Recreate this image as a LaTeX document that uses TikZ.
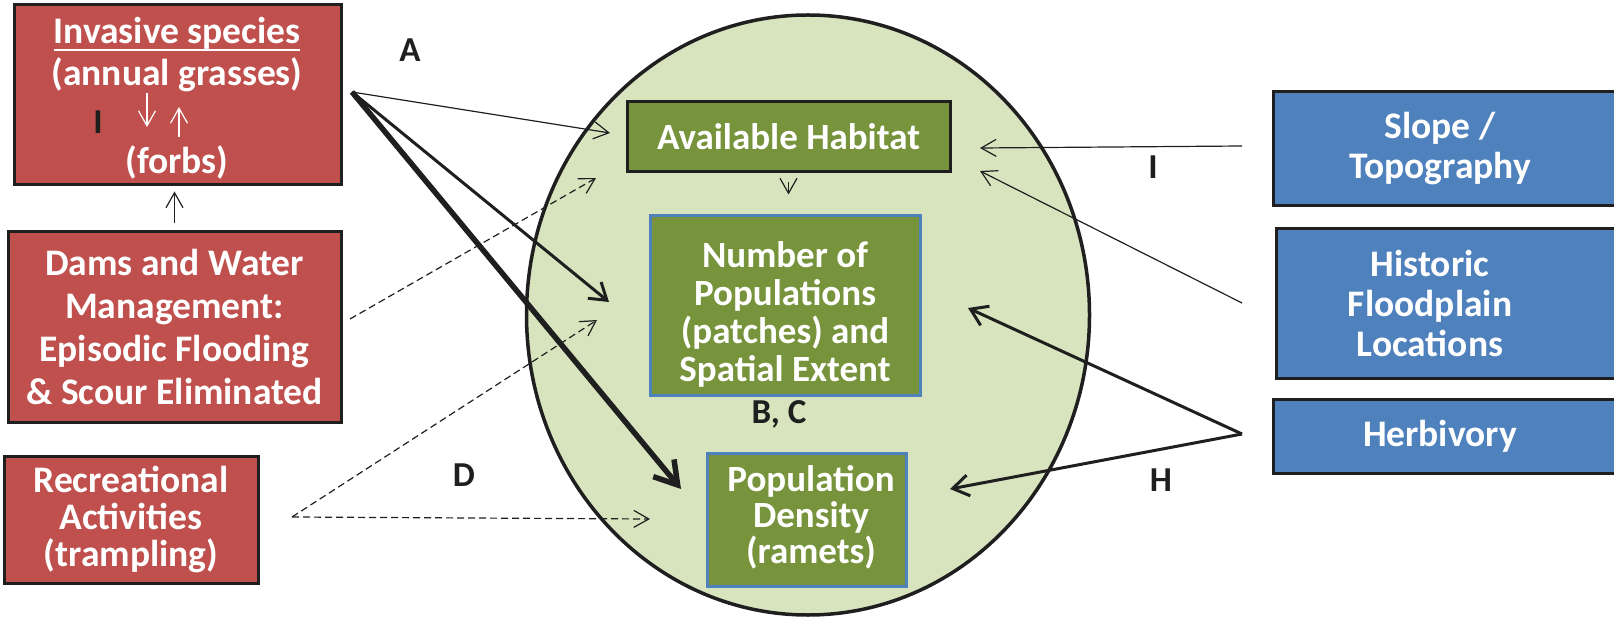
\documentclass[tikz,border=0pt]{standalone}
\usepackage{fontspec}
\setmainfont{Carlito}
\usetikzlibrary{arrows.meta,shapes.geometric}
\definecolor{brick}{HTML}{C0504D}
\definecolor{moss}{HTML}{77933C}
\definecolor{sage}{HTML}{D7E4BD}
\definecolor{steel}{HTML}{4F81BD}
\definecolor{ink}{HTML}{1F1F1F}
\newcommand\ulined[1]{\setbox0\hbox{#1}\rlap{\rule[-7pt]{\wd0}{2pt}}\box0}

\begin{document}
\begin{tikzpicture}[x=1pt, y=-1pt,
   box/.style={rectangle, inner sep=0pt, align=center, text=white, line width=3pt,
     font=\bfseries\fontsize{37.5}{43}\selectfont},
   driver/.style={box, draw=ink, fill=brick},
   response/.style={box, fill=moss, font=\bfseries\fontsize{37}{38}\selectfont},
   factor/.style={box, draw=ink, fill=steel, font=\bfseries\fontsize{37.5}{40}\selectfont},
   boxtext/.style={align=center, text=white, inner sep=0pt},
   tag/.style={text=ink, inner sep=0pt, font=\bfseries\fontsize{35}{40}\selectfont},
   link/.style={draw=ink, line width=1.2pt, -{Straight Barb[length=15pt,width=17pt]}},
   dashlink/.style={link, dash pattern=on 7pt off 4pt},
   strong/.style={draw=ink, line width=3pt, -{Straight Barb[length=16pt,width=21pt]}},
   heavy/.style={draw=ink, line width=5.5pt, -{Straight Barb[length=22pt,width=27pt]}}]
   \clip (0,0) rectangle (1614,620);

   % habitat zone
   \node[ellipse, draw=ink, fill=sage, line width=3.5pt, inner sep=0pt,
     minimum width=563pt, minimum height=600pt] (zone) at (808,315) {};

   % drivers on the left
   \node[driver, minimum width=327pt, minimum height=180pt] (inv) at (177.5,95) {};
   \node[boxtext, font=\bfseries\fontsize{37.5}{42}\selectfont] (invT) at (177,55)
     {\ulined{Invasive species}\\(annual grasses)};
   \node[boxtext, font=\bfseries\fontsize{37.5}{42}\selectfont] (forbs) at (177,162) {(forbs)};
   \node[driver, minimum width=333pt, minimum height=190pt] (dams) at (174.5,327)
     {Dams and Water\\Management:\\Episodic Flooding\\\& Scour Eliminated};
   \node[driver, minimum width=254pt, minimum height=127pt,
     font=\bfseries\fontsize{37.5}{37}\selectfont] (rec) at (131,519.5)
     {Recreational\\Activities\\(trampling)};

   % responses in the zone
   \node[response, draw=ink, minimum width=323pt, minimum height=70pt] (hab) at (788.5,137)
     {Available Habitat};
   \node[response, draw=steel, minimum width=270pt, minimum height=179pt] (num) at (785,305.5) {};
   \node[boxtext, font=\bfseries\fontsize{37}{38}\selectfont] (numT) at (785,314)
     {Number of\\Populations\\(patches) and\\Spatial Extent};
   \node[response, draw=steel, minimum width=199pt, minimum height=133pt] (den) at (806.5,519.5) {};
   \node[boxtext, font=\bfseries\fontsize{37}{36}\selectfont] (denT) at (811,517)
     {Population\\Density\\(ramets)};

   % factors on the right
   \node[factor, minimum width=347pt, minimum height=114pt] (slope) at (1446.5,149) {};
   \node[boxtext, font=\bfseries\fontsize{37.5}{40}\selectfont] (slopeT) at (1440,149)
     {Slope /\\Topography};
   \node[factor, minimum width=344pt, minimum height=149pt] (hist) at (1448,303.5) {};
   \node[boxtext, font=\bfseries\fontsize{37.5}{40}\selectfont] (histT) at (1430,303)
     {Historic\\Floodplain\\Locations};
   \node[factor, minimum width=347pt, minimum height=74pt] (herb) at (1446.5,436) {};
   \node[boxtext, font=\bfseries\fontsize{37.5}{40}\selectfont] (herbT) at (1440,436) {Herbivory};

   % arrow ends
   \coordinate (aSrc) at (352,92);
   \coordinate (aHab) at (610,133);
   \coordinate (aNum) at (609,302);
   \coordinate (aDen) at (681,489);
   \coordinate (dSrc) at (350,319);
   \coordinate (dHab) at (596,178);
   \coordinate (rSrc) at (292,517);
   \coordinate (rNum) at (597,320);
   \coordinate (rDen) at (650,519);
   \coordinate (sSrc) at (1242,146);
   \coordinate (sHab) at (980,148);
   \coordinate (hSrc) at (1242,303);
   \coordinate (hHab) at (980,171);
   \coordinate (bSrc) at (1242,434);
   \coordinate (bNum) at (968,308);
   \coordinate (bDen) at (950,489);
   \coordinate (gTop) at (147,93);
   \coordinate (gBot) at (147,127);
   \coordinate (fBot) at (179,137);
   \coordinate (fTop) at (179,107);

   \draw[link, draw=white] (gTop) -- (gBot);
   \draw[link, draw=white] (fBot) -- (fTop);
   \draw[link, shorten <=7pt, shorten >=5pt] (dams.north) -- (dams.north |- inv.south);
   \draw[link, shorten <=9pt, shorten >=20pt] (hab.south) -- (hab.south |- num.north);

   \draw[link] (aSrc) -- (aHab);
   \draw[strong] (aSrc) -- (aNum);
   \draw[heavy] (aSrc) -- (aDen);
   \draw[dashlink] (dSrc) -- (dHab);
   \draw[dashlink] (rSrc) -- (rNum);
   \draw[dashlink] (rSrc) -- (rDen);
   \draw[link] (sSrc) -- (sHab);
   \draw[link] (hSrc) -- (hHab);
   \draw[strong] (bSrc) -- (bNum);
   \draw[strong] (bSrc) -- (bDen);

   % labels
   \node[tag] (labA) at (410,50) {A};
   \node[tag] (labD) at (464,475) {D};
   \node[tag] (labBC) at (779,414) {B, C};
   \node[tag] (labI) at (98,122) {I};
   \node[tag] (labIr) at (1153,167) {I};
   \node[tag] (labH) at (1161,480) {H};
\end{tikzpicture}
\end{document}
